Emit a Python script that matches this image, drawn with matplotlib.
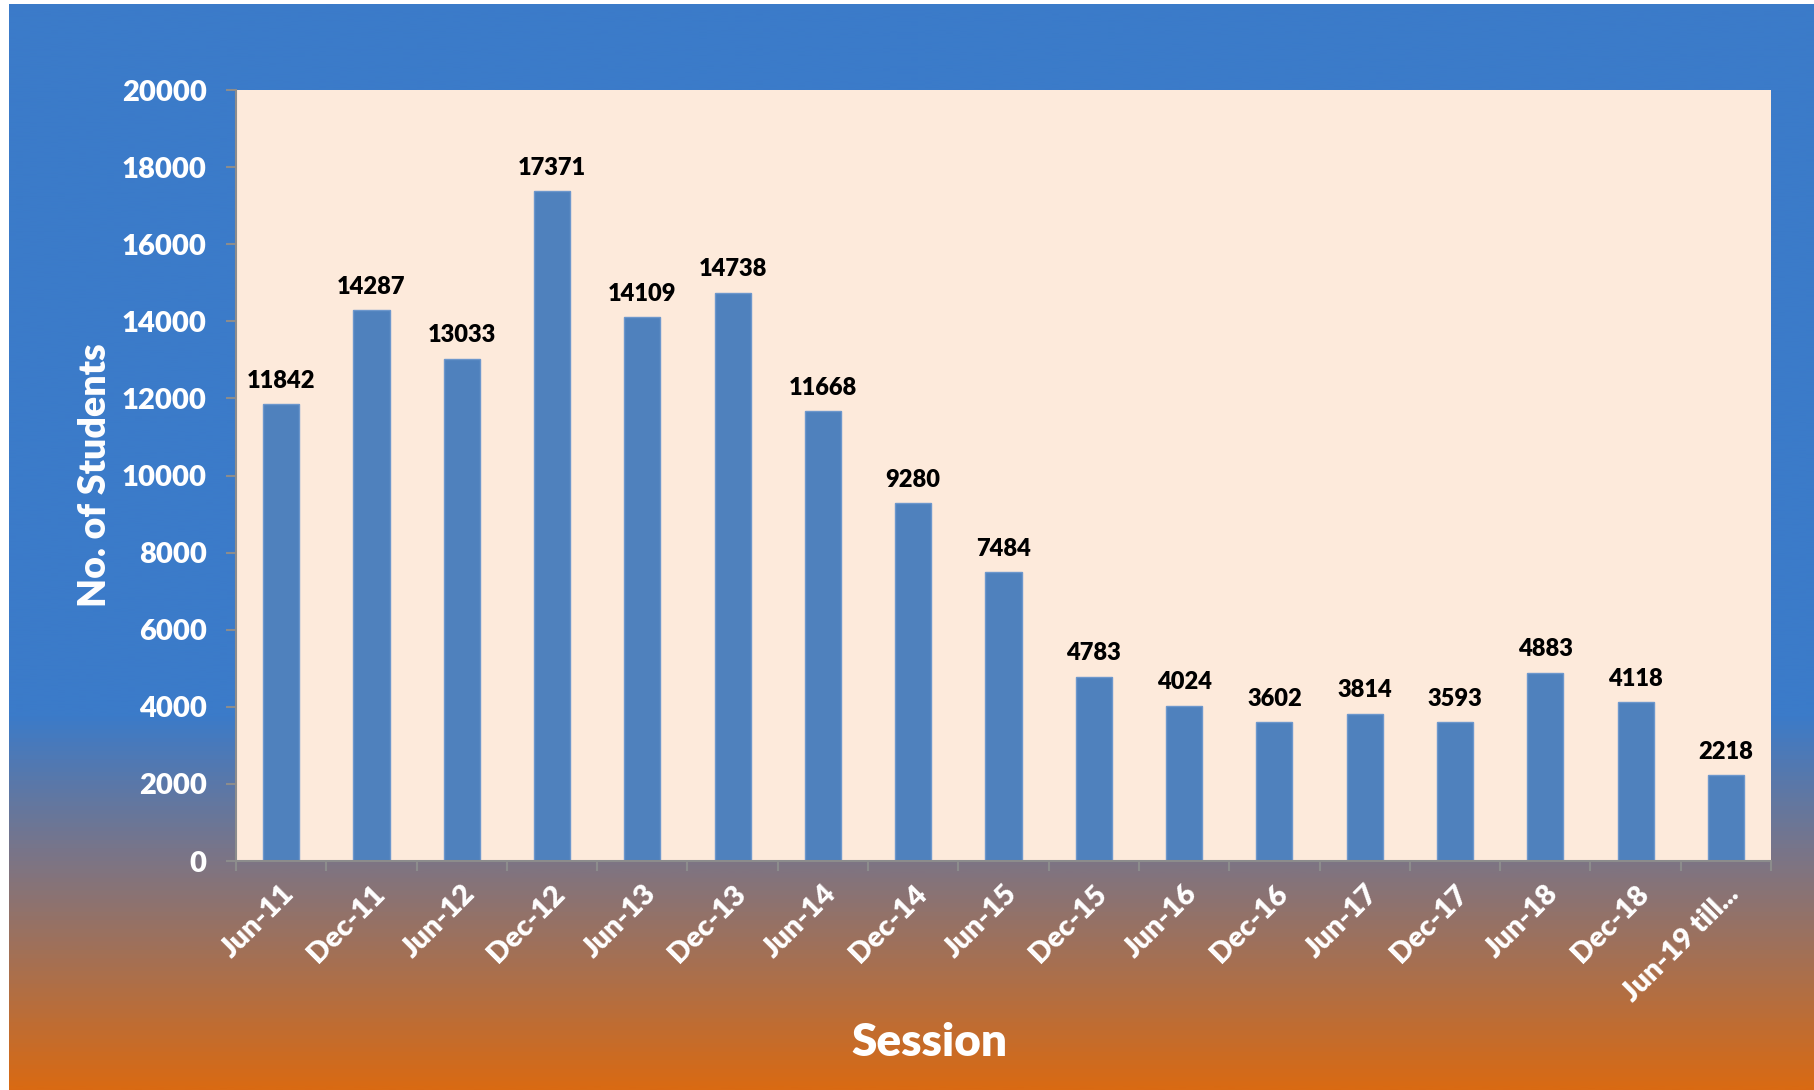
import matplotlib

matplotlib.use("Agg", force=True)
import matplotlib.pyplot as plt
import numpy as np
from matplotlib.colors import LinearSegmentedColormap

sessions = ["Jun-11", "Dec-11", "Jun-12", "Dec-12", "Jun-13", "Dec-13", "Jun-14",
            "Dec-14", "Jun-15", "Dec-15", "Jun-16", "Dec-16", "Jun-17", "Dec-17",
            "Jun-18", "Dec-18", "Jun-19 till..."]
students = [11842, 14287, 13033, 17371, 14109, 14738, 11668, 9280, 7484, 4783,
            4024, 3602, 3814, 3593, 4883, 4118, 2218]
y_ticks = [0, 2000, 4000, 6000, 8000, 10000, 12000, 14000, 16000, 18000, 20000]

W, H = 1814, 1090
plt.rcParams["font.family"] = ["Lato", "DejaVu Sans"]
plt.rcParams["font.weight"] = "bold"

fig = plt.figure(figsize=(W / 100, H / 100), dpi=100, facecolor="white")

# background gradient: solid blue on top, blending into orange at the bottom
bg = fig.add_axes([9 / W, 0, 1 - 9 / W, 1 - 4 / H], zorder=0)
cmap = LinearSegmentedColormap.from_list(
    "bg", [(0.0, "#3b7bc9"), (0.655, "#3b7bc9"), (0.78, "#78758a"), (1.0, "#d96a13")])
grad = np.linspace(0, 1, 1024).reshape(-1, 1)
bg.imshow(grad, aspect="auto", cmap=cmap, extent=[0, 1, 1, 0])
bg.set_axis_off()

left, right, top, bottom = 236, 1771, 90, 861
ax = fig.add_axes([left / W, 1 - bottom / H, (right - left) / W, (bottom - top) / H], zorder=1)
ax.set_facecolor("#fdeadb")

x = np.arange(len(sessions))
ax.bar(x, students, width=0.4, color="#4f81bd", edgecolor="#6d97cc", linewidth=1)
for xi, v in zip(x, students):
    ax.annotate(str(v), (xi, v), xytext=(0, 9), textcoords="offset points",
                ha="center", va="bottom", fontsize=17, fontweight="heavy", color="black")

ax.set_xlim(-0.5, len(sessions) - 0.5)
ax.set_ylim(0, 20000)
ax.set_yticks(y_ticks)
ax.set_yticklabels([str(t) for t in y_ticks], fontsize=21, color="white", fontweight="heavy")
ax.set_xticks(x)
ax.set_xticklabels(sessions, rotation=45, ha="right", rotation_mode="anchor",
                   fontsize=21, color="white", fontweight="heavy")
ax.set_xticks(np.arange(len(sessions) + 1) - 0.5, minor=True)
ax.tick_params(axis="x", which="major", length=0, pad=14)
ax.tick_params(axis="x", which="minor", length=7, color="#8c8c8c", width=1.5, direction="out")
ax.tick_params(axis="y", length=7, color="#8c8c8c", width=1.5, pad=14)

for side in ("top", "right"):
    ax.spines[side].set_visible(False)
for side in ("left", "bottom"):
    ax.spines[side].set_color("#8c8c8c")
    ax.spines[side].set_linewidth(1.5)

ax.set_ylabel("No. of Students", fontsize=27, color="white", fontweight="heavy", labelpad=7)
fig.text(929 / W, 1 - 1042 / H, "Session", fontsize=33, color="white",
         fontweight="heavy", ha="center", va="center")

fig.savefig("out.png", dpi=100, facecolor="white")
